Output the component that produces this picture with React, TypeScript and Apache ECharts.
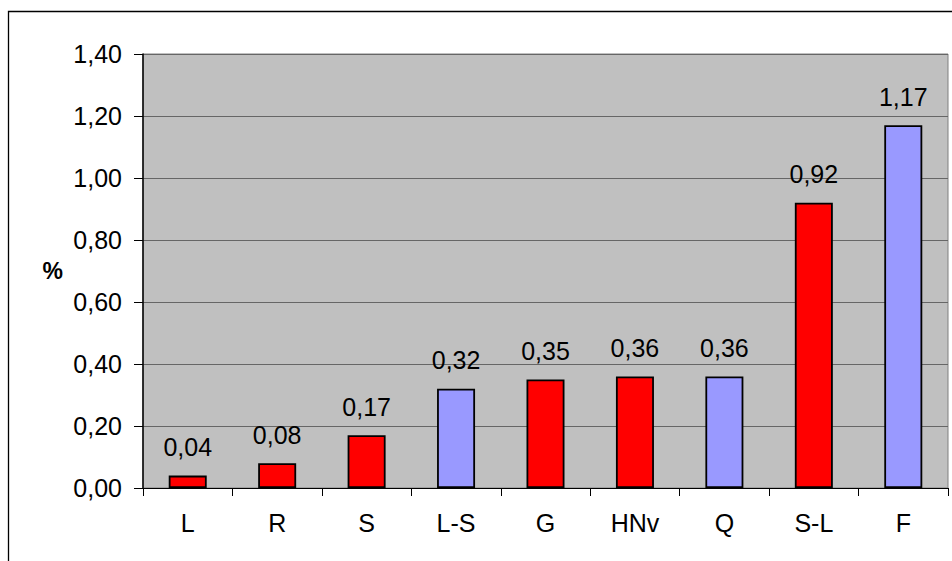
import React, { useEffect, useRef } from "react";
import * as echarts from "echarts";

const categories = ["L", "R", "S", "L-S", "G", "HNv", "Q", "S-L", "F"];
const values = [0.04, 0.08, 0.17, 0.32, 0.35, 0.36, 0.36, 0.92, 1.17];
const barColors = ["#FF0000", "#FF0000", "#FF0000", "#9999FF", "#FF0000", "#FF0000", "#9999FF", "#FF0000", "#9999FF"];
const yMin = 0;
const yMax = 1.4;
const yStep = 0.2;
const yName = "%";

const fmt = (v: number) => v.toFixed(2).replace(".", ",");
const FONT = "'Liberation Sans', Arial, sans-serif";

export default function App() {
  const ref = useRef<HTMLDivElement>(null);
  useEffect(() => {
    if (!ref.current) return;
    const chart = echarts.init(ref.current, null, { renderer: "svg" });
    chart.setOption({
      animation: false,
      backgroundColor: "#FFFFFF",
      textStyle: { fontFamily: FONT },
      graphic: [
        {
          type: "rect",
          shape: { x: 8.5, y: 11.5, width: 1200, height: 1200 },
          style: { fill: "none", stroke: "#000000", lineWidth: 1.3 },
          silent: true,
          z: 0,
        },
      ],
      grid: {
        left: 143,
        top: 54,
        right: 4,
        bottom: 73,
        show: true,
        backgroundColor: "#C0C0C0",
        borderColor: "#808080",
        borderWidth: 1,
      },
      xAxis: {
        type: "category",
        data: categories,
        axisLine: { show: true, lineStyle: { color: "#000000", width: 1 } },
        axisTick: { show: true, alignWithLabel: false, length: 8, lineStyle: { color: "#000000" } },
        axisLabel: { color: "#000000", fontSize: 25, margin: 22, fontFamily: FONT },
        splitLine: { show: false },
      },
      yAxis: {
        type: "value",
        min: yMin,
        max: yMax,
        interval: yStep,
        name: yName,
        nameLocation: "middle",
        nameRotate: 0,
        nameGap: 80,
        nameTextStyle: { color: "#000000", fontSize: 23, fontWeight: "bold", fontFamily: FONT },
        axisLine: { show: true, lineStyle: { color: "#000000", width: 1.5 } },
        axisTick: { show: true, length: 9, lineStyle: { color: "#000000" } },
        axisLabel: { color: "#000000", fontSize: 25, margin: 21, fontFamily: FONT, formatter: (v: number) => fmt(v) },
        splitLine: { show: true, lineStyle: { color: "#666666", width: 1 } },
      },
      series: [
        {
          type: "bar",
          data: values.map((v, i) => ({
            value: v,
            itemStyle: { color: barColors[i], borderColor: "#000000", borderWidth: 1.8 },
          })),
          barWidth: 38,
          label: {
            show: true,
            position: "top",
            distance: 16,
            color: "#000000",
            fontSize: 25,
            fontFamily: FONT,
            formatter: (p: any) => fmt(p.value),
          },
        },
      ],
    });
    return () => chart.dispose();
  }, []);
  return (
    <div
      ref={ref}
      style={{ position: "fixed", left: 0, top: 0, width: 952, height: 561 }}
    />
  );
}
